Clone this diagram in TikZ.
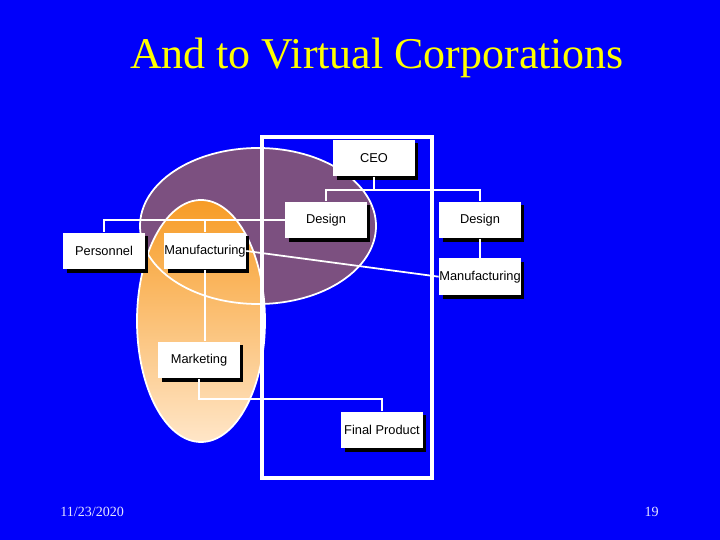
\documentclass[tikz,border=0pt]{standalone}
\usepackage{fontspec}
\setmainfont{Liberation Serif}
\newfontfamily\boxfont{Liberation Sans}
\usetikzlibrary{shadows,positioning}
\definecolor{slideblue}{RGB}{0,0,250}
\definecolor{plum}{RGB}{124,80,128}
\definecolor{deeporange}{RGB}{247,156,38}
\definecolor{peach}{RGB}{255,230,200}
\definecolor{titleyellow}{RGB}{255,255,0}

\begin{document}
\begin{tikzpicture}[x=0.02cm, y=-0.02cm,
	orgbox/.style={fill=white, minimum width=1.64cm, minimum height=0.74cm, inner sep=0pt,
		font=\boxfont\fontsize{7.3}{8}\selectfont,
		drop shadow={shadow xshift=0.07cm, shadow yshift=-0.07cm, fill=black, opacity=1}},
	link/.style={white, line width=1pt}]
	% slide background
	\fill[slideblue] (0,0) rectangle (720,540);
	\useasboundingbox (0,0) rectangle (720,540);
	\node[titleyellow, font=\fontsize{25}{30}\selectfont, anchor=base] (title) at (377,69) {And to Virtual Corporations};
	\node[white!90!blue, font=\fontsize{8}{10}\selectfont, anchor=base west, inner sep=0pt] (date) at (60,516) {11/23/2020};
	\node[white!90!blue, font=\fontsize{8}{10}\selectfont, anchor=base east, inner sep=0pt] (page) at (659,516) {19};

	% overlapping groups
	\fill[plum] (258,226) ellipse [x radius=118, y radius=78];
	\shade[top color=deeporange, bottom color=peach, draw=white, line width=1pt] (201,321) ellipse [x radius=64, y radius=121];
	\draw[white, line width=1pt] (258,226) ellipse [x radius=118, y radius=78];
	\draw[white, line width=2.8pt] (262,137) rectangle (432,478);

	% chart
	\node[orgbox] (ceo) at (374,158) {CEO};
	\node[orgbox] (designA) at (326,220) {Design};
	\node[orgbox] (designB) at (480,220) {Design};
	\node[orgbox, below=0.38cm of designB] (manufB) {Manufacturing};
	\node[orgbox] (personnel) at (104,251) {Personnel};
	\node[orgbox] (manufA) at (205,251) {Manufacturing};
	\node[orgbox] (marketing) at (199,360) {Marketing};
	\node[orgbox] (final) at (382,430) {Final Product};

	\draw[link] (ceo.south) -- ++(0,13) -| (designA.north);
	\draw[link] (ceo.south) -- ++(0,13) -| (designB.north);
	\draw[link] (designA.west) -| (personnel.north);
	\draw[link] (designA.west) -| (manufA.north);
	\draw[link] (designB.south) -- (manufB.north);
	\draw[link] (manufA.east) -- (manufB.west);
	\draw[link] (manufA.south) -- (manufA.south |- marketing.north);
	\draw[link] (marketing.south) -- ++(0,20) -| (final.north);
\end{tikzpicture}
\end{document}
